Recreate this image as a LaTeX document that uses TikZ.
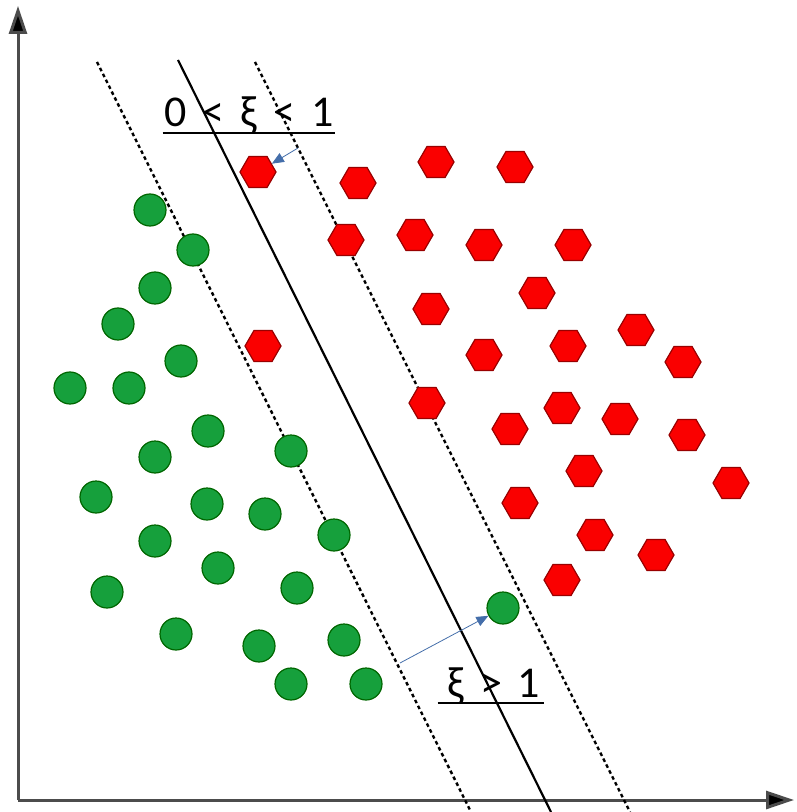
\documentclass[tikz,border=0pt]{standalone}
\usepackage{fontspec}
\setmainfont{Carlito}
\usetikzlibrary{shapes, shapes.geometric, arrows.meta, positioning}
\definecolor{ptgreen}{RGB}{22,160,60}
\definecolor{ptred}{RGB}{250,0,0}
\definecolor{tipblue}{RGB}{68,110,170}

\begin{document}
\begin{tikzpicture}[x=0.5pt, y=-0.5pt]
% Define styles
\tikzstyle{greenpt} = [circle, draw=green!40!black, fill=ptgreen, line width=0.6pt, minimum size=16pt, inner sep=0pt]
\tikzstyle{redpt} = [regular polygon, regular polygon sides=6, draw=red!60!black, fill=ptred, line width=0.6pt, minimum size=18pt, inner sep=0pt]
\tikzstyle{axis} = [line width=1.5pt, draw=black!70, -{Triangle[width=9pt, length=14pt, fill=black]}]
\tikzstyle{margin} = [line width=1.2pt, dash pattern=on 1.8pt off 1.5pt]
\tikzstyle{slack} = [tipblue, line width=0.4pt, -{Triangle[width=5pt, length=6pt]}]
\tikzstyle{lbl} = [font=\fontsize{22}{26}\selectfont, inner sep=0pt, outer sep=0pt]

\useasboundingbox (0,0) rectangle (796,812);

% Axes
\coordinate (origin) at (18,800);
\coordinate (ytop) at (18,6);
\coordinate (xend) at (794,800);
\draw [axis] (origin) -- (ytop);
\draw [axis] (origin) -- (xend);

% Separating hyperplane and margins
\coordinate (h1) at (178,60);
\coordinate (h2) at (551,812);
\coordinate (m1) at (97,62);
\coordinate (m2) at (471,812);
\coordinate (n1) at (255,62);
\coordinate (n2) at (630,812);
\draw [line width=1.1pt] (h1) -- (h2);
\draw [margin] (m1) -- (m2);
\draw [margin] (n1) -- (n2);

% Green class
\node (g1) [greenpt] at (150,210) {};
\node (g2) [greenpt] at (193,250) {};
\node (g3) [greenpt] at (155,288) {};
\node (g4) [greenpt] at (118,324) {};
\node (g5) [greenpt] at (181,361) {};
\node (g6) [greenpt] at (70,388) {};
\node (g7) [greenpt] at (129,388) {};
\node (g8) [greenpt] at (208,431) {};
\node (g9) [greenpt] at (155,457) {};
\node (g10) [greenpt] at (291,451) {};
\node (g11) [greenpt] at (96,497) {};
\node (g12) [greenpt] at (207,504) {};
\node (g13) [greenpt] at (265,514) {};
\node (g14) [greenpt] at (155,541) {};
\node (g15) [greenpt] at (334,535) {};
\node (g16) [greenpt] at (218,568) {};
\node (g17) [greenpt] at (107,592) {};
\node (g18) [greenpt] at (297,588) {};
\node (g19) [greenpt] at (176,634) {};
\node (g20) [greenpt] at (259,646) {};
\node (g21) [greenpt] at (344,640) {};
\node (g22) [greenpt] at (291,684) {};
\node (g23) [greenpt] at (366,684) {};
\node (g24) [greenpt] at (503,608) {};

% Red class
\node (r1) [redpt] at (258,172) {};
\node (r2) [redpt] at (358,183) {};
\node (r3) [redpt] at (436,162) {};
\node (r4) [redpt] at (515,167) {};
\node (r5) [redpt] at (346,240) {};
\node (r6) [redpt] at (415,235) {};
\node (r7) [redpt] at (484,245) {};
\node (r8) [redpt] at (573,245) {};
\node (r9) [redpt] at (431,309) {};
\node (r10) [redpt] at (537,293) {};
\node (r11) [redpt] at (263,346) {};
\node (r12) [redpt] at (484,355) {};
\node (r13) [redpt] at (568,346) {};
\node (r14) [redpt] at (636,330) {};
\node (r15) [redpt] at (683,362) {};
\node (r16) [redpt] at (427,403) {};
\node (r17) [redpt] at (510,429) {};
\node (r18) [redpt] at (562,408) {};
\node (r19) [redpt] at (620,419) {};
\node (r20) [redpt] at (687,435) {};
\node (r21) [redpt] at (584,471) {};
\node (r22) [redpt] at (731,483) {};
\node (r23) [redpt] at (520,503) {};
\node (r24) [redpt] at (595,535) {};
\node (r25) [redpt] at (656,555) {};
\node (r26) [redpt] at (562,580) {};

% Slack labels
\node (xi1) [lbl, anchor=base] at (249,127) {0\hspace{3pt} <\hspace{3pt} ξ\hspace{3pt} <\hspace{3pt} 1};
\draw [line width=0.9pt] ([xshift=-1pt, yshift=-3pt]xi1.base west) -- ([xshift=1pt, yshift=-3pt]xi1.base east);
\node (xi2) [lbl, anchor=base] at (494,697) {ξ\hspace{3pt} >\hspace{3pt} 1};
\draw [line width=0.9pt] ([xshift=-5pt, yshift=-3pt]xi2.base west) -- ([xshift=2pt, yshift=-3pt]xi2.base east);

% Slack arrows
\coordinate (s1) at (298,148);
\coordinate (s2) at (400,663);
\draw [slack] (s1) -- (r1);
\draw [slack] (s2) -- (g24);
\end{tikzpicture}
\end{document}
